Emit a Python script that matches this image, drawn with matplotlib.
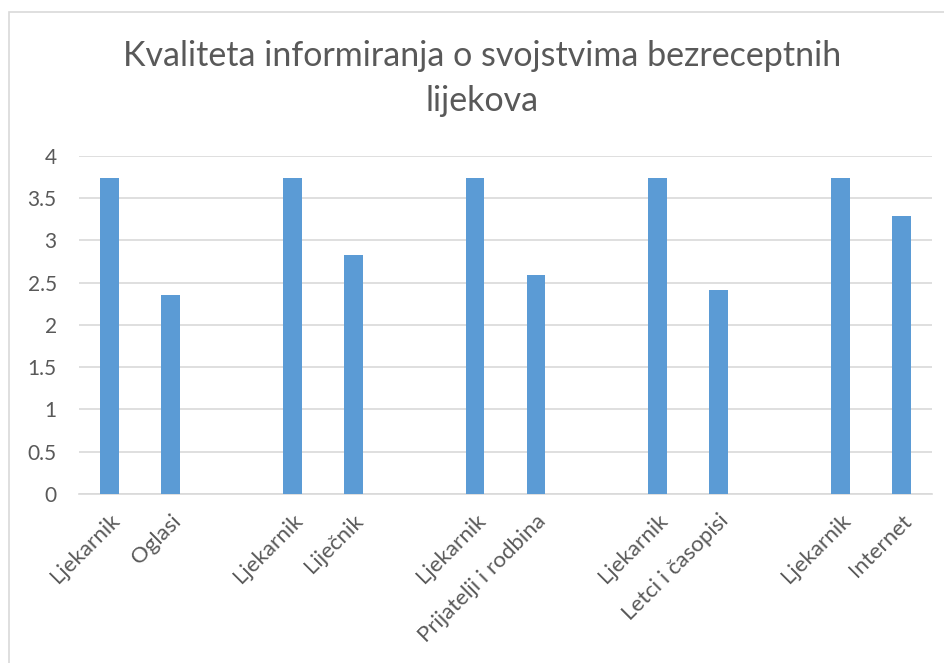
import matplotlib.pyplot as plt
from matplotlib.patches import Rectangle

plt.rcParams['font.family'] = ['Lato', 'DejaVu Sans']

categories = ['Ljekarnik', 'Oglasi', '',
              'Ljekarnik', 'Liječnik', '',
              'Ljekarnik', 'Prijatelji i rodbina', '',
              'Ljekarnik', 'Letci i časopisi', '',
              'Ljekarnik', 'Internet']
values = [3.74, 2.35, 0,
          3.74, 2.83, 0,
          3.74, 2.59, 0,
          3.74, 2.41, 0,
          3.74, 3.29]
yticks = [0, 0.5, 1, 1.5, 2, 2.5, 3, 3.5, 4]
title = 'Kvaliteta informiranja o svojstvima bezreceptnih\nlijekova'

W, H = 945, 663
fig = plt.figure(figsize=(W / 100, H / 100), dpi=100)
ax = fig.add_axes([79 / W, (H - 494) / H, (932 - 79) / W, (494 - 155.7) / H])

x = range(len(categories))
ax.bar(x, values, width=0.31, color='#5b9bd5', zorder=3)

ax.set_xlim(-0.5, len(categories) - 0.5)
ax.set_ylim(0, 4)
ax.set_yticks(yticks)
ax.set_yticklabels([f'{t:g}' for t in yticks])
ax.set_xticks(list(x))
ax.set_xticklabels(categories, rotation=45, ha='right', rotation_mode='anchor')

ax.grid(axis='y', color='#d9d9d9', linewidth=1.2, zorder=0)
for s in ['top', 'right', 'left']:
    ax.spines[s].set_visible(False)
ax.spines['bottom'].set_color('#d9d9d9')
ax.spines['bottom'].set_linewidth(1.2)
ax.tick_params(axis='y', length=0, labelsize=15, labelcolor='#595959', pad=16)
ax.tick_params(axis='x', length=0, labelsize=16, labelcolor='#595959', pad=12)

fig.text(482 / W, (H - 40) / H, title, ha='center', va='top',
         fontsize=24.5, color='#595959', linespacing=1.5)

# chart area border
fig.patches.append(Rectangle((9 / W, -0.01), 1.0, (H - 12) / H + 0.01,
                             transform=fig.transFigure, fill=False,
                             edgecolor='#d9d9d9', linewidth=1.2))

fig.savefig('out.png', dpi=100)
